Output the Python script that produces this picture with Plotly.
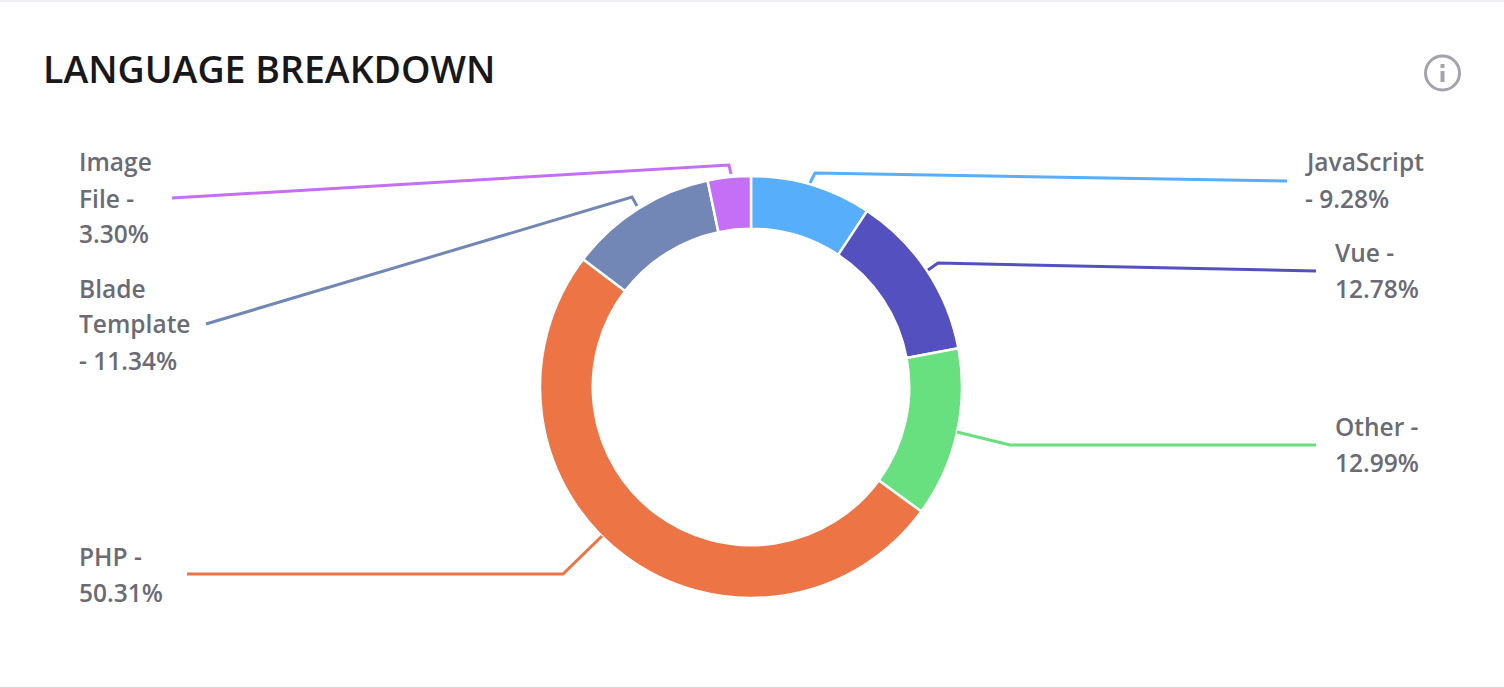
import plotly.graph_objects as go

W = 1504
H = 688

languages = ['JavaScript', 'Vue', 'Other', 'PHP', 'Blade Template', 'Image File']
shares = [9.28, 12.78, 12.99, 50.31, 11.34, 3.30]
colors = ['#57aefa', '#5450bf', '#69e07f', '#ed7445', '#7287b5', '#c46ff5']

# how the card wraps each label
wrapped = [
    ['JavaScript', '- 9.28%'],
    ['Vue -', '12.78%'],
    ['Other -', '12.99%'],
    ['PHP -', '50.31%'],
    ['Blade', 'Template', '- 11.34%'],
    ['Image', 'File -', '3.30%'],
]
label_x = [1303, 1333, 1333, 77, 77, 77]
label_y = [162, 252, 426, 556, 288, 162]
leaders = [
    [(810, 183), (815, 173), (1287, 181)],
    [(928, 270), (938, 263), (1316, 271)],
    [(957, 432), (1010, 445), (1316, 445)],
    [(602, 536), (563, 574), (187, 574)],
    [(637, 206), (632, 197), (206, 324)],
    [(731, 174), (729, 165), (172, 198)],
]


def px(x):
    return x / W


def py(y):
    return 1 - y / H


fig = go.Figure(go.Pie(
    labels=languages,
    values=shares,
    hole=0.75,
    sort=False,
    direction='clockwise',
    rotation=0,
    textinfo='none',
    marker=dict(colors=colors, line=dict(color='white', width=2.5)),
    domain=dict(x=[px(540), px(962)], y=[py(598), py(176)]),
    showlegend=False,
))

shapes = [
    dict(type='rect', xref='paper', yref='paper', x0=0, x1=1, y0=py(0), y1=py(2),
         fillcolor='#eef0f3', line_width=0),
    dict(type='rect', xref='paper', yref='paper', x0=0, x1=1, y0=py(687), y1=py(688),
         fillcolor='#d6d6d6', line_width=0),
    # info icon
    dict(type='circle', xref='paper', yref='paper', x0=px(1425.5), x1=px(1459.5), y0=py(56), y1=py(90),
         line=dict(color='#a3a3ad', width=3)),
    dict(type='rect', xref='paper', yref='paper', x0=px(1440.5), x1=px(1444.5), y0=py(71), y1=py(82),
         fillcolor='#a3a3ad', line_width=0),
    dict(type='rect', xref='paper', yref='paper', x0=px(1440.5), x1=px(1444.5), y0=py(64), y1=py(68),
         fillcolor='#a3a3ad', line_width=0),
]
for pts, color in zip(leaders, colors):
    path = 'M ' + ' L '.join(f'{px(x)} {py(y)}' for x, y in pts)
    shapes.append(dict(type='path', xref='paper', yref='paper', path=path,
                       line=dict(color=color, width=3)))

annotations = [dict(
    text='LANGUAGE BREAKDOWN', xref='paper', yref='paper', x=px(41), y=py(69),
    xanchor='left', yanchor='middle', showarrow=False,
    font=dict(family='Open Sans', size=37.5, color='#18181b', weight=600),
)]
for lines, x, y in zip(wrapped, label_x, label_y):
    for i, line in enumerate(lines):
        annotations.append(dict(
            text=line, xref='paper', yref='paper', x=px(x), y=py(y + i * 36),
            xanchor='left', yanchor='middle', showarrow=False,
            font=dict(family='Open Sans', size=24.5, color='#6b6b76', weight=600),
        ))

fig.update_layout(
    width=W,
    height=H,
    margin=dict(l=0, r=0, t=0, b=0),
    paper_bgcolor='white',
    shapes=shapes,
    annotations=annotations,
)

fig.write_html('out.html', config=dict(displayModeBar=False),
               post_script="document.body.style.margin='0';")
